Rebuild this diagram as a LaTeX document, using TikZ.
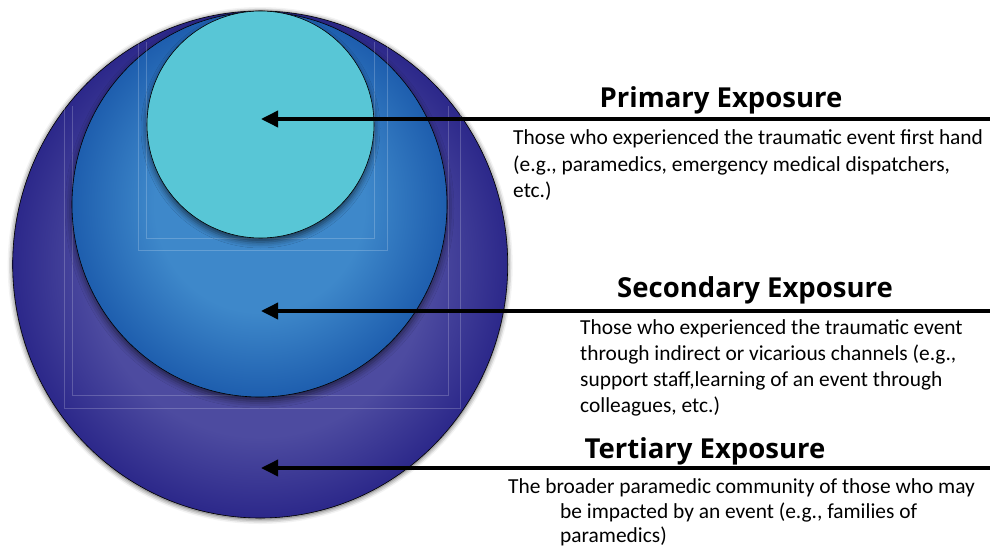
\documentclass[tikz,border=0pt]{standalone}
\usepackage{fontspec}
\setmainfont{Carlito}
\newfontfamily\titlefont{Open Sans}
\usetikzlibrary{arrows.meta,shapes.geometric,shadows.blur}
\definecolor{oc}{RGB}{77,75,160}
\definecolor{oe}{RGB}{44,40,138}
\definecolor{sc}{RGB}{62,136,202}
\definecolor{se}{RGB}{30,94,174}
\definecolor{pc}{RGB}{88,198,214}
\pgfdeclareradialshading{outerball}{\pgfpoint{0bp}{0bp}}{color(0bp)=(oc); color(17bp)=(oc); color(25bp)=(oe); color(50bp)=(oe)}
\pgfdeclareradialshading{secball}{\pgfpoint{0bp}{0bp}}{color(0bp)=(sc); color(14bp)=(sc); color(25bp)=(se); color(50bp)=(se)}
\tikzset{
  ball/.style={ellipse, inner sep=0pt, draw=black, line width=0.6pt},
  faint/.style={draw=white, opacity=0.2, line width=0.7pt},
  pointer/.style={line width=3.6pt, -{Triangle[length=17pt,width=16pt]}},
  title/.style={inner sep=0pt, anchor=base, font=\titlefont\bfseries\fontsize{27.5}{31}\selectfont},
  body/.style={inner sep=0pt, anchor=base west, font=\fontsize{21.4}{26}\selectfont},
}
\begin{document}
\begin{tikzpicture}[x=1pt,y=-1pt]
\useasboundingbox (0,0) rectangle (990,548);
% circles
\node[ball, shading=outerball, minimum width=495pt, minimum height=507pt,
  blur shadow={shadow xshift=0pt, shadow yshift=-1pt, shadow blur radius=5pt, shadow opacity=75}] (outer) at (260.2,264.5) {};
\draw[faint] (64,106) -- (64,408) -- (460,408) -- (460,106);
\draw[faint] (72,106) -- (72,395) -- (448,395) -- (448,106);
\node[ball, shading=secball, minimum width=375pt, minimum height=385pt,
  blur shadow={shadow xshift=0pt, shadow yshift=-4pt, shadow blur radius=7pt, shadow opacity=60}] (second) at (259.5,204.5) {};
\draw[faint] (138,42) -- (138,250) -- (387,250) -- (387,42);
\draw[faint] (146,42) -- (146,238) -- (374,238) -- (374,42);
\node[ball, fill=pc, minimum width=227pt, minimum height=227pt,
  blur shadow={shadow xshift=0pt, shadow yshift=-4pt, shadow blur radius=6pt, shadow opacity=60}] (prim) at (260.5,124.5) {};
% arrows
\coordinate (e1) at (990,119);
\coordinate (e2) at (990,311);
\coordinate (e3) at (990,468);
\coordinate (t1) at (261,119);
\coordinate (t2) at (261,311);
\coordinate (t3) at (261,468);
\draw[pointer] (e1) -- (t1);
\draw[pointer] (e2) -- (t2);
\draw[pointer] (e3) -- (t3);
% titles
\node[title] (h1) at (721,108) {Primary Exposure};
\node[title] (h2) at (755,297) {Secondary Exposure};
\node[title] (h3) at (705,458) {Tertiary Exposure};
% body texts
\node[body] (p1) at (513,145) {Those who experienced the traumatic event first hand};
\node[body] (p2) at (513,171.5) {(e.g., paramedics, emergency medical dispatchers,};
\node[body] (p3) at (513,198) {etc.)};
\node[body] (s1) at (580,334.5) {Those who experienced the traumatic event};
\node[body] (s2) at (580,360.5) {through indirect or vicarious channels (e.g.,};
\node[body] (s3) at (580,386.5) {support staff,learning of an event through};
\node[body] (s4) at (580,412.5) {colleagues, etc.)};
\node[body] (r1) at (508,493) {The broader paramedic community of those who may};
\node[body] (r2) at (560,518) {be impacted by an event (e.g., families of};
\node[body] (r3) at (560,542.5) {paramedics)};
\end{tikzpicture}
\end{document}
